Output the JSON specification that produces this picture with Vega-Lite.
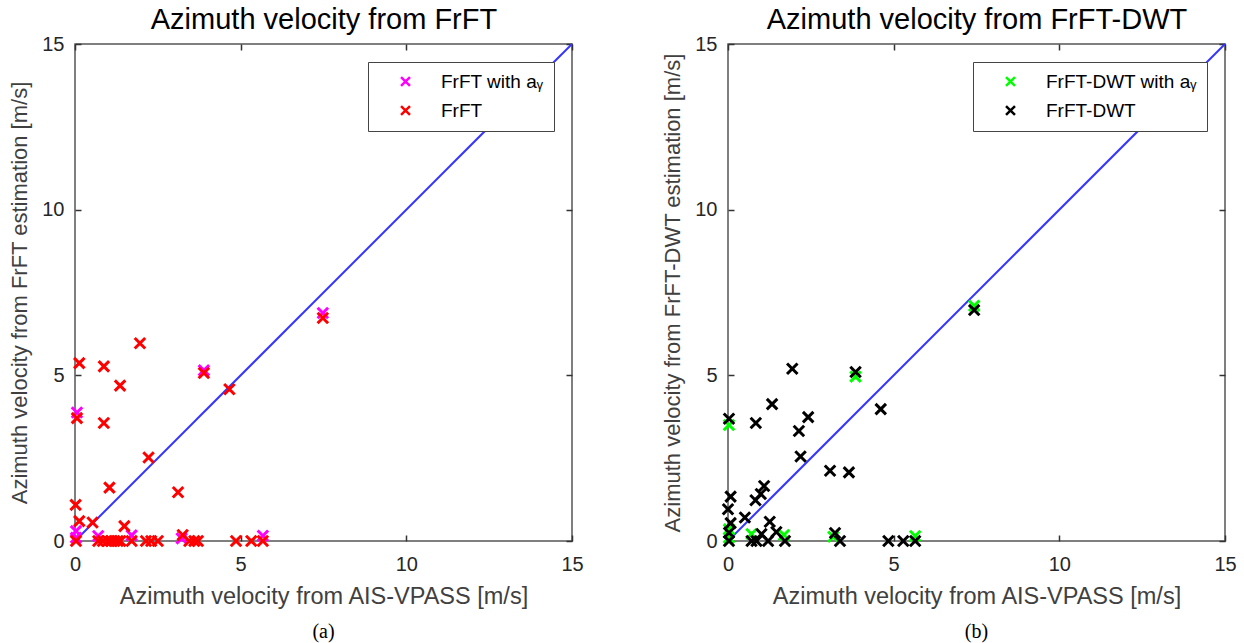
{
  "$schema": "https://vega.github.io/schema/vega-lite/v6.json",
  "background": "white",
  "padding": {"left": 8, "top": 4, "right": 18, "bottom": 2},
  "spacing": 77,
  "resolve": {"scale": {"color": "independent"}, "legend": {"color": "independent"}},
  "config": {
    "font": "Liberation Sans",
    "view": {"stroke": "#555555", "strokeWidth": 1.5},
    "axis": {
      "grid": false,
      "domain": false,
      "labelFlush": false,
      "tickColor": "#333333",
      "tickWidth": 1.5,
      "tickSize": -6,
      "labelFont": "Liberation Sans",
      "labelFontSize": 20,
      "labelColor": "#262626",
      "labelPadding": 17,
      "titleFont": "Liberation Sans",
      "titleFontSize": 22,
      "titleFontWeight": "normal",
      "titleColor": "#404040"
    }
  },
  "datasets": {
    "diag": [{"x": 0, "y": 0}, {"x": 15, "y": 15}],
    "frft": [
      {"x": 0.06, "y": 3.88, "series": "FrFT with aᵧ"},
      {"x": 3.89, "y": 5.15, "series": "FrFT with aᵧ"},
      {"x": 7.48, "y": 6.88, "series": "FrFT with aᵧ"},
      {"x": 0.03, "y": 0.30, "series": "FrFT with aᵧ"},
      {"x": 0.03, "y": 0.10, "series": "FrFT with aᵧ"},
      {"x": 0.70, "y": 0.15, "series": "FrFT with aᵧ"},
      {"x": 1.71, "y": 0.17, "series": "FrFT with aᵧ"},
      {"x": 3.22, "y": 0.08, "series": "FrFT with aᵧ"},
      {"x": 5.67, "y": 0.16, "series": "FrFT with aᵧ"},
      {"x": 1.96, "y": 5.97, "series": "FrFT"},
      {"x": 0.13, "y": 5.37, "series": "FrFT"},
      {"x": 0.87, "y": 5.27, "series": "FrFT"},
      {"x": 3.89, "y": 5.07, "series": "FrFT"},
      {"x": 1.36, "y": 4.69, "series": "FrFT"},
      {"x": 4.66, "y": 4.58, "series": "FrFT"},
      {"x": 0.06, "y": 3.71, "series": "FrFT"},
      {"x": 0.87, "y": 3.56, "series": "FrFT"},
      {"x": 2.22, "y": 2.52, "series": "FrFT"},
      {"x": 1.04, "y": 1.61, "series": "FrFT"},
      {"x": 3.11, "y": 1.47, "series": "FrFT"},
      {"x": 0.02, "y": 1.09, "series": "FrFT"},
      {"x": 0.13, "y": 0.60, "series": "FrFT"},
      {"x": 0.53, "y": 0.56, "series": "FrFT"},
      {"x": 1.49, "y": 0.45, "series": "FrFT"},
      {"x": 7.48, "y": 6.73, "series": "FrFT"},
      {"x": 3.25, "y": 0.18, "series": "FrFT"},
      {"x": 0.03, "y": 0.0, "series": "FrFT"},
      {"x": 0.70, "y": 0.0, "series": "FrFT"},
      {"x": 0.84, "y": 0.0, "series": "FrFT"},
      {"x": 0.99, "y": 0.0, "series": "FrFT"},
      {"x": 1.09, "y": 0.0, "series": "FrFT"},
      {"x": 1.19, "y": 0.0, "series": "FrFT"},
      {"x": 1.29, "y": 0.0, "series": "FrFT"},
      {"x": 1.37, "y": 0.0, "series": "FrFT"},
      {"x": 1.71, "y": 0.0, "series": "FrFT"},
      {"x": 2.14, "y": 0.0, "series": "FrFT"},
      {"x": 2.30, "y": 0.0, "series": "FrFT"},
      {"x": 2.50, "y": 0.0, "series": "FrFT"},
      {"x": 3.45, "y": 0.0, "series": "FrFT"},
      {"x": 3.60, "y": 0.0, "series": "FrFT"},
      {"x": 3.71, "y": 0.0, "series": "FrFT"},
      {"x": 4.86, "y": 0.0, "series": "FrFT"},
      {"x": 5.32, "y": 0.0, "series": "FrFT"},
      {"x": 5.67, "y": 0.0, "series": "FrFT"}
    ],
    "dwt": [
      {"x": 3.85, "y": 4.96, "series": "FrFT-DWT with aᵧ"},
      {"x": 0.03, "y": 3.50, "series": "FrFT-DWT with aᵧ"},
      {"x": 7.43, "y": 7.10, "series": "FrFT-DWT with aᵧ"},
      {"x": 0.03, "y": 0.35, "series": "FrFT-DWT with aᵧ"},
      {"x": 0.03, "y": 0.10, "series": "FrFT-DWT with aᵧ"},
      {"x": 0.71, "y": 0.21, "series": "FrFT-DWT with aᵧ"},
      {"x": 1.69, "y": 0.18, "series": "FrFT-DWT with aᵧ"},
      {"x": 3.18, "y": 0.13, "series": "FrFT-DWT with aᵧ"},
      {"x": 5.65, "y": 0.15, "series": "FrFT-DWT with aᵧ"},
      {"x": 1.94, "y": 5.20, "series": "FrFT-DWT"},
      {"x": 3.85, "y": 5.10, "series": "FrFT-DWT"},
      {"x": 1.33, "y": 4.13, "series": "FrFT-DWT"},
      {"x": 4.61, "y": 3.98, "series": "FrFT-DWT"},
      {"x": 0.03, "y": 3.69, "series": "FrFT-DWT"},
      {"x": 2.42, "y": 3.74, "series": "FrFT-DWT"},
      {"x": 0.84, "y": 3.56, "series": "FrFT-DWT"},
      {"x": 2.14, "y": 3.32, "series": "FrFT-DWT"},
      {"x": 2.19, "y": 2.55, "series": "FrFT-DWT"},
      {"x": 3.08, "y": 2.12, "series": "FrFT-DWT"},
      {"x": 3.65, "y": 2.07, "series": "FrFT-DWT"},
      {"x": 1.09, "y": 1.66, "series": "FrFT-DWT"},
      {"x": 0.08, "y": 1.34, "series": "FrFT-DWT"},
      {"x": 0.99, "y": 1.42, "series": "FrFT-DWT"},
      {"x": 0.83, "y": 1.23, "series": "FrFT-DWT"},
      {"x": 0.00, "y": 0.96, "series": "FrFT-DWT"},
      {"x": 0.51, "y": 0.71, "series": "FrFT-DWT"},
      {"x": 1.26, "y": 0.58, "series": "FrFT-DWT"},
      {"x": 0.08, "y": 0.54, "series": "FrFT-DWT"},
      {"x": 0.03, "y": 0.25, "series": "FrFT-DWT"},
      {"x": 1.46, "y": 0.27, "series": "FrFT-DWT"},
      {"x": 3.23, "y": 0.24, "series": "FrFT-DWT"},
      {"x": 1.01, "y": 0.21, "series": "FrFT-DWT"},
      {"x": 7.43, "y": 6.97, "series": "FrFT-DWT"},
      {"x": 0.03, "y": 0.0, "series": "FrFT-DWT"},
      {"x": 0.71, "y": 0.0, "series": "FrFT-DWT"},
      {"x": 0.86, "y": 0.0, "series": "FrFT-DWT"},
      {"x": 1.21, "y": 0.0, "series": "FrFT-DWT"},
      {"x": 1.72, "y": 0.0, "series": "FrFT-DWT"},
      {"x": 3.38, "y": 0.0, "series": "FrFT-DWT"},
      {"x": 4.84, "y": 0.0, "series": "FrFT-DWT"},
      {"x": 5.29, "y": 0.0, "series": "FrFT-DWT"},
      {"x": 5.65, "y": 0.0, "series": "FrFT-DWT"}
    ]
  },
  "hconcat": [
    {
      "width": 497,
      "height": 497,
      "title": {"text": "(a)", "orient": "bottom", "font": "Liberation Serif", "fontSize": 20, "fontWeight": "normal", "color": "#000000", "offset": 14},
      "layer": [
        {
          "data": {"name": "diag"},
          "mark": {"type": "line", "color": "#3535ff", "strokeWidth": 2},
          "encoding": {
            "x": {"field": "x", "type": "quantitative", "scale": {"domain": [0, 15], "nice": false, "zero": false},
                  "axis": {"orient": "top", "labels": false, "values": [0, 5, 10, 15], "title": "Azimuth velocity from FrFT", "titleFontSize": 29, "titleColor": "#000000", "titlePadding": 9}},
            "y": {"field": "y", "type": "quantitative", "scale": {"domain": [0, 15], "nice": false, "zero": false},
                  "axis": {"orient": "right", "labels": false, "values": [0, 5, 10, 15], "title": null}}
          }
        },
        {
          "data": {"name": "frft"},
          "mark": {"type": "point", "shape": "M-1,-1L1,1M1,-1L-1,1", "filled": false, "strokeWidth": 3, "size": 110, "opacity": 1},
          "encoding": {
            "x": {"field": "x", "type": "quantitative", "axis": {"orient": "bottom", "values": [0, 5, 10, 15], "labelPadding": 19, "titlePadding": 10, "titleFontSize": 23.5, "title": "Azimuth velocity from AIS-VPASS [m/s]"}},
            "y": {"field": "y", "type": "quantitative", "axis": {"orient": "left", "values": [0, 5, 10, 15], "titlePadding": 10, "title": "Azimuth velocity from FrFT estimation [m/s]"}},
            "color": {"field": "series", "type": "nominal", "sort": null,
                      "scale": {"domain": ["FrFT with aᵧ", "FrFT"], "range": ["#ff00ff", "#ff0000"]},
                      "legend": {"title": null, "orient": "top-right", "offset": 18, "padding": 10, "strokeColor": "#444444", "fillColor": "#ffffff", "labelFontSize": 19, "labelFont": "Liberation Sans", "labelColor": "#000000", "symbolType": "M-1,-1L1,1M1,-1L-1,1", "symbolSize": 80, "symbolStrokeWidth": 2.5, "symbolFillColor": "transparent", "symbolOffset": 18, "labelOffset": 26, "rowPadding": 9}}
          }
        }
      ],
      "resolve": {"axis": {"x": "independent", "y": "independent"}}
    },
    {
      "width": 497,
      "height": 497,
      "title": {"text": "(b)", "orient": "bottom", "font": "Liberation Serif", "fontSize": 20, "fontWeight": "normal", "color": "#000000", "offset": 14},
      "layer": [
        {
          "data": {"name": "diag"},
          "mark": {"type": "line", "color": "#3535ff", "strokeWidth": 2},
          "encoding": {
            "x": {"field": "x", "type": "quantitative", "scale": {"domain": [0, 15], "nice": false, "zero": false},
                  "axis": {"orient": "top", "labels": false, "values": [0, 5, 10, 15], "title": "Azimuth velocity from FrFT-DWT", "titleFontSize": 29, "titleColor": "#000000", "titlePadding": 9}},
            "y": {"field": "y", "type": "quantitative", "scale": {"domain": [0, 15], "nice": false, "zero": false},
                  "axis": {"orient": "right", "labels": false, "values": [0, 5, 10, 15], "title": null}}
          }
        },
        {
          "data": {"name": "dwt"},
          "mark": {"type": "point", "shape": "M-1,-1L1,1M1,-1L-1,1", "filled": false, "strokeWidth": 3, "size": 110, "opacity": 1},
          "encoding": {
            "x": {"field": "x", "type": "quantitative", "axis": {"orient": "bottom", "values": [0, 5, 10, 15], "labelPadding": 19, "titlePadding": 10, "titleFontSize": 23.5, "title": "Azimuth velocity from AIS-VPASS [m/s]"}},
            "y": {"field": "y", "type": "quantitative", "axis": {"orient": "left", "values": [0, 5, 10, 15], "titlePadding": 10, "title": "Azimuth velocity from FrFT-DWT estimation [m/s]"}},
            "color": {"field": "series", "type": "nominal", "sort": null,
                      "scale": {"domain": ["FrFT-DWT with aᵧ", "FrFT-DWT"], "range": ["#00ff00", "#000000"]},
                      "legend": {"title": null, "orient": "top-right", "offset": 18, "padding": 10, "strokeColor": "#444444", "fillColor": "#ffffff", "labelFontSize": 19, "labelFont": "Liberation Sans", "labelColor": "#000000", "symbolType": "M-1,-1L1,1M1,-1L-1,1", "symbolSize": 80, "symbolStrokeWidth": 2.5, "symbolFillColor": "transparent", "symbolOffset": 18, "labelOffset": 26, "rowPadding": 9}}
          }
        }
      ],
      "resolve": {"axis": {"x": "independent", "y": "independent"}}
    }
  ]
}
